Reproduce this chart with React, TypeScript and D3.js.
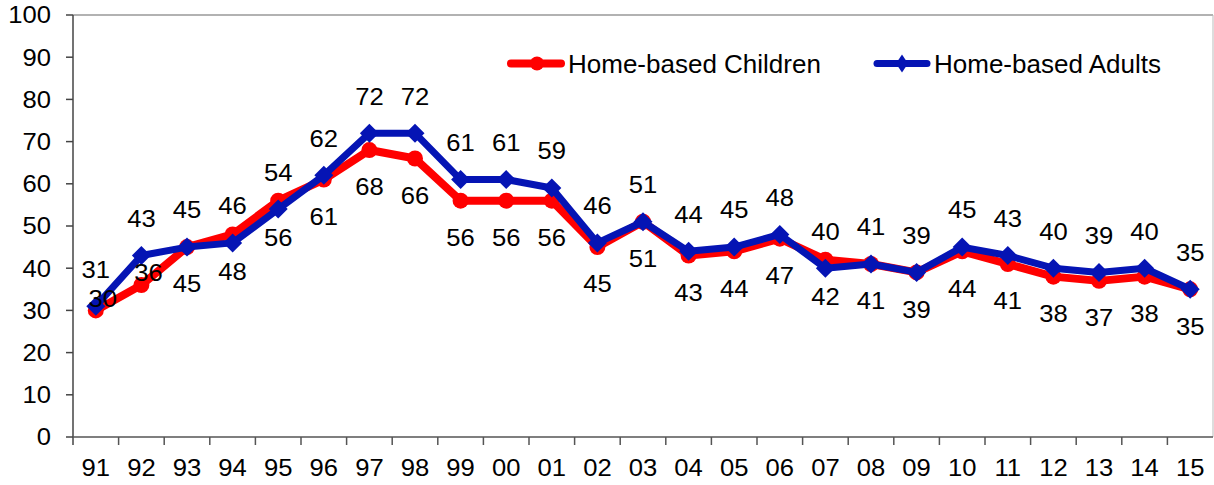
import React from "react";
import * as d3 from "d3";

const categories = ["91","92","93","94","95","96","97","98","99","00","01","02","03","04","05","06","07","08","09","10","11","12","13","14","15"];
const children = [30,36,45,48,56,61,68,66,56,56,56,45,51,43,44,47,42,41,39,44,41,38,37,38,35];
const adults = [31,43,45,46,54,62,72,72,61,61,59,46,51,44,45,48,40,41,39,45,43,40,39,40,35];
const yTicks = [0,10,20,30,40,50,60,70,80,90,100];
const seriesNames = ["Home-based Children", "Home-based Adults"];

const W = 1214, H = 485;
const L = 73, R = 1213, T = 15, B = 437;
const RED = "#FF0000";
const BLUE = "#0514B4";
const FONT = "Liberation Sans, Arial, sans-serif";
const FS = 23.3;
const SX = 1.1;

function Txt({ x, y, anchor = "middle", children: c }: { x: number; y: number; anchor?: string; children: React.ReactNode }) {
  return (
    <text transform={`translate(${x},${y}) scale(${SX},1)`} dy="0.36em" textAnchor={anchor} fontSize={FS} fill="#000">
      {c}
    </text>
  );
}

export default function App() {
  const x = d3.scaleBand<string>().domain(categories).range([L, R]).padding(0);
  const y = d3.scaleLinear().domain([0, 100]).range([B, T]);
  const cx = (c: string) => (x(c) as number) + x.bandwidth() / 2;
  const line = d3.line<number>().x((_, i) => cx(categories[i])).y((v) => y(v));
  const diamond = (px: number, py: number, s: number, sy = s) =>
    `M${px},${py - sy}L${px + s},${py}L${px},${py + sy}L${px - s},${py}Z`;
  const redLabelOffset = (i: number): [number, number] =>
    i === 0 || i === 1 ? [7, -12] : [0, 37];

  return (
    <svg width={W} height={H} style={{ position: "absolute", left: 0, top: 0, background: "#fff" }} fontFamily={FONT}>
      <line x1={L} y1={T} x2={R} y2={T} stroke="#999" strokeWidth={1.5} />
      <line x1={R} y1={T} x2={R} y2={B} stroke="#bbb" strokeWidth={1} />
      <line x1={L} y1={T} x2={L} y2={B + 8} stroke="#444" strokeWidth={1.5} />
      {yTicks.map((t) => (
        <g key={t}>
          <line x1={L - 7} x2={L} y1={y(t)} y2={y(t)} stroke="#444" strokeWidth={1.5} />
          <Txt x={51} y={y(t)} anchor="end">{t}</Txt>
        </g>
      ))}
      <line x1={L} y1={B} x2={R} y2={B} stroke="#555" strokeWidth={1.5} />
      {categories.map((c, i) => (
        <g key={c}>
          {i > 0 && <line x1={x(c) as number} x2={x(c) as number} y1={B} y2={B + 8} stroke="#555" strokeWidth={1.5} />}
          <Txt x={cx(c)} y={468}>{c}</Txt>
        </g>
      ))}
      <path d={line(children) || ""} fill="none" stroke={RED} strokeWidth={8} strokeLinejoin="round" />
      {children.map((v, i) => (
        <circle key={i} cx={cx(categories[i])} cy={y(v)} r={8} fill={RED} />
      ))}
      <path d={line(adults) || ""} fill="none" stroke={BLUE} strokeWidth={7} strokeLinejoin="round" />
      {adults.map((v, i) => (
        <path key={i} d={diamond(cx(categories[i]), y(v), 9.5)} fill={BLUE} />
      ))}
      {children.map((v, i) => {
        const [dx, dy] = redLabelOffset(i);
        return <Txt key={"c" + i} x={cx(categories[i]) + dx} y={y(v) + dy}>{v}</Txt>;
      })}
      {adults.map((v, i) => (
        <Txt key={"a" + i} x={cx(categories[i])} y={y(v) - 37}>{v}</Txt>
      ))}
      <line x1={511} x2={561} y1={63.5} y2={63.5} stroke={RED} strokeWidth={8} strokeLinecap="round" />
      <circle cx={537} cy={63.5} r={7} fill={RED} />
      <text x={568} y={63.5} dy="0.36em" fontSize={26} fill="#000">{seriesNames[0]}</text>
      <line x1={877} x2={927} y1={63.5} y2={63.5} stroke={BLUE} strokeWidth={7} strokeLinecap="round" />
      <path d={diamond(902, 63.5, 6, 9)} fill={BLUE} />
      <text x={934} y={63.5} dy="0.36em" fontSize={26} fill="#000">{seriesNames[1]}</text>
    </svg>
  );
}
